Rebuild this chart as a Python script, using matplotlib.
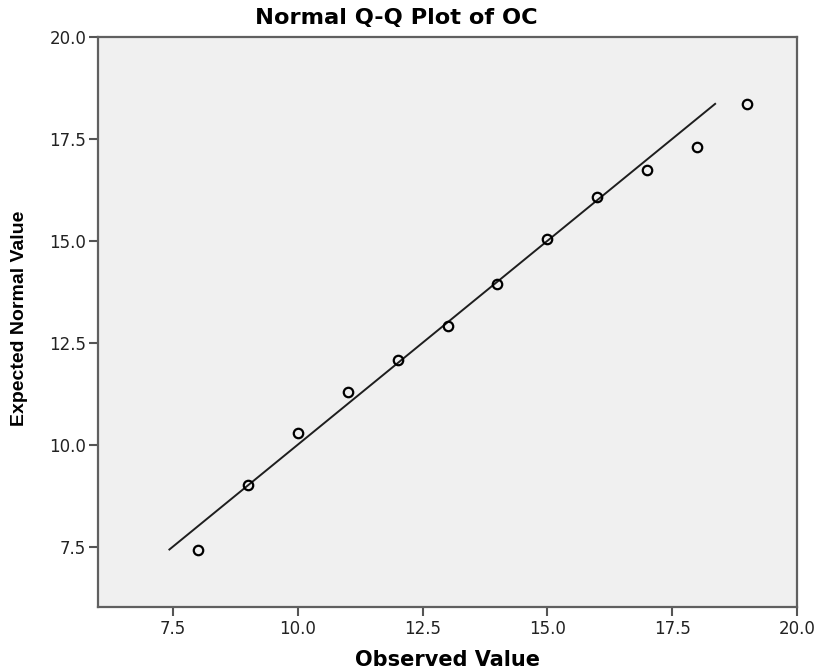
import numpy as np
import matplotlib
matplotlib.use("Agg")
import matplotlib.pyplot as plt

observed = [8, 9, 10, 11, 12, 13, 14, 15, 16, 17, 18, 19]
expected = [7.43, 9.02, 10.29, 11.30, 12.07, 12.91, 13.93, 15.05, 16.08, 16.75, 17.31, 18.36]

# reference line runs over the range of expected values
line_x = [min(expected), max(expected)]

xticks = [7.5, 10.0, 12.5, 15.0, 17.5, 20.0]
yticks = [7.5, 10.0, 12.5, 15.0, 17.5, 20.0]

fig = plt.figure(figsize=(8.16, 6.71), dpi=100)
ax = fig.add_axes([98/816, 1 - 607/671, (797 - 98)/816, (607 - 37)/671])
ax.set_facecolor("#f0f0f0")

ax.plot(line_x, line_x, color="#1e1e1e", linewidth=1.4, zorder=2)
ax.plot(observed, expected, linestyle="none", marker="o", markersize=6.8,
        markerfacecolor="none", markeredgecolor="black", markeredgewidth=1.6, zorder=3)

ax.set_xlim(6.0, 20.0)
ax.set_ylim(6.02, 20.0)
ax.set_xticks(xticks)
ax.set_yticks(yticks)
ax.set_xticklabels([f"{v:.1f}" for v in xticks], fontsize=12, color="#222222")
ax.set_yticklabels([f"{v:.1f}" for v in yticks], fontsize=12, color="#222222")
ax.tick_params(axis="both", direction="out", length=6.5, width=1.5, color="#555555")
ax.tick_params(axis="x", pad=3)
ax.tick_params(axis="y", pad=2)

for s in ax.spines.values():
    s.set_color("#606060")
    s.set_linewidth(1.6)

fig.text(396/816, 1 - 18/671, "Normal Q-Q Plot of OC", ha="center", va="center",
         fontsize=16.2, fontweight="bold", family="DejaVu Sans")
fig.text(447/816, 1 - 660/671, "Observed Value", ha="center", va="center",
         fontsize=15, fontweight="bold", family="DejaVu Sans")
fig.text(20/816, 1 - 318/671, "Expected Normal Value", ha="center", va="center",
         rotation=90, fontsize=14, fontweight="bold", family="Liberation Sans")

plt.savefig("out.png", dpi=100)
